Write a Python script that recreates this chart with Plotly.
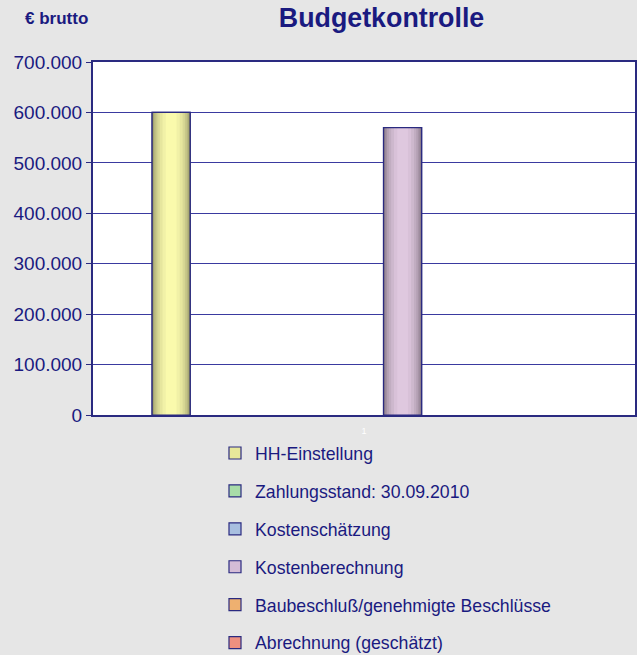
import plotly.graph_objects as go

categories = ["1"]
series_names = [
    "HH-Einstellung",
    "Zahlungsstand: 30.09.2010",
    "Kostenschätzung",
    "Kostenberechnung",
    "Baubeschluß/genehmigte Beschlüsse",
    "Abrechnung (geschätzt)",
]
series_values = [600000, 0, 0, 570000, 0, 0]
# light (centre) colour of each series' cylinder shading
series_colors = ["#ffffb0", "#b4ecb4", "#b4ccf0", "#e4cce4", "#f8bc7c", "#f89c8c"]
legend_colors = ["#e8e89a", "#a8dca8", "#a8bfe0", "#d4bcd6", "#eeb070", "#ee9080"]
y_ticks = [0, 100000, 200000, 300000, 400000, 500000, 600000, 700000]

NAVY = "#1a1a80"
LINE = "#2a2a80"
BAR_W = (1 - 0.146) / 6 * (1 - 0.506)   # full bar width in category units


def hex2rgb(h):
    h = h.lstrip("#")
    return [int(h[i:i + 2], 16) for i in (0, 2, 4)]


def mix(c, t, dark=0.5):
    r = hex2rgb(c)
    return "rgb(%d,%d,%d)" % tuple(round(v * (dark + (1 - dark) * t)) for v in r)


def shown(v):
    # a zero-height bar is not drawn (avoids a stray outline on the baseline)
    return [v if v else None]


fig = go.Figure()
# base traces (carry the legend)
for i, (name, val, col) in enumerate(zip(series_names, series_values, legend_colors)):
    fig.add_trace(go.Bar(
        x=categories, y=shown(val), name=name,
        marker=dict(color=col, line=dict(color=LINE, width=1.2)),
        legendgroup=f"g{i}", hoverinfo="name+y",
    ))

# shading layers on overlaying axes (same grouping, narrower, lighter)
layer_fracs = [1.0, 0.96, 0.9, 0.82, 0.72, 0.6, 0.45, 0.28]
axis_defs = {}
for k, f in enumerate(layer_fracs):
    ax = k + 2
    t = (1 - f * f) ** 0.5
    for i, (name, val, col) in enumerate(zip(series_names, series_values, series_colors)):
        fig.add_trace(go.Bar(
            x=categories, y=shown(val), name=name, showlegend=False,
            width=BAR_W * f,
            marker=dict(color=mix(col, t), line=dict(width=0)),
            xaxis=f"x{ax}", yaxis="y", hoverinfo="skip",
        ))
    axis_defs[f"xaxis{ax}"] = dict(overlaying="x", matches="x", visible=False)
# outline layer on top
ax = len(layer_fracs) + 2
for i, (name, val) in enumerate(zip(series_names, series_values)):
    fig.add_trace(go.Bar(
        x=categories, y=shown(val), name=name, showlegend=False,
        marker=dict(color="rgba(0,0,0,0)", line=dict(color=LINE, width=1.2)),
        xaxis=f"x{ax}", yaxis="y", hoverinfo="skip",
    ))
axis_defs[f"xaxis{ax}"] = dict(overlaying="x", matches="x", visible=False)

fig.update_layout(
    width=637, height=655,
    paper_bgcolor="#e6e6e6", plot_bgcolor="#ffffff",
    separators=",.",
    barmode="group", bargap=0.146, bargroupgap=0.506,
    margin=dict(l=93, r=2, t=62, b=240, pad=0, autoexpand=False),
    font=dict(family="Liberation Sans, Arial, sans-serif", color=NAVY),
    title=dict(text="<b>Budgetkontrolle</b>", x=0.599, xanchor="center",
               y=1 - 18 / 655, yanchor="middle", xref="container", yref="container",
               font=dict(size=26.8, color=NAVY, family="Liberation Sans, Arial, sans-serif")),
    legend=dict(orientation="v", x=(215 - 93) / 542, xanchor="left",
                y=(415 - 435) / 353, yanchor="top",
                font=dict(size=17.7, color=NAVY), tracegroupgap=11.9,
                bgcolor="rgba(0,0,0,0)", itemwidth=30),
    showlegend=True,
    annotations=[dict(text="<b>€ brutto</b>", xref="paper", yref="paper",
                      x=(56 - 93) / 542, y=(415 - 18) / 353, xanchor="center", yanchor="middle",
                      showarrow=False, font=dict(size=17, color=NAVY))],
    **axis_defs,
)
fig.update_yaxes(range=[0, 700000], tickvals=y_ticks, tickformat=",d",
                 showgrid=True, gridcolor="#3a3aa0", gridwidth=1,
                 showline=True, linecolor=LINE, linewidth=2,
                 ticks="outside", ticklen=5, tickcolor=LINE,
                 tickfont=dict(size=19, color=NAVY), mirror=True, zeroline=False,
                 layer="above traces")
fig.update_layout(xaxis=dict(showline=True, linecolor=LINE, linewidth=2, mirror=True,
                             tickfont=dict(size=9, color="#ffffff"), ticks="",
                             ticklabelstandoff=6, layer="above traces"))
fig.write_html("out.html", post_script="document.body.style.margin='0';",
               config={"displayModeBar": False})
